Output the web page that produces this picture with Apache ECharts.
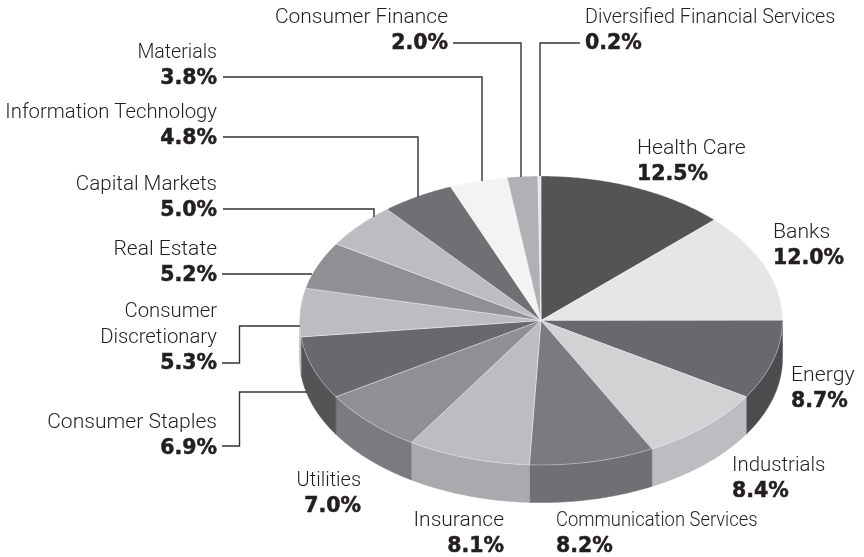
<!DOCTYPE html>
<html>
<head>
<meta charset="utf-8">
<style>
  html, body { margin: 0; padding: 0; background: #fff; }
  #chart { width: 864px; height: 557px; }
</style>
<script src="https://cdn.jsdelivr.net/npm/echarts@6/dist/echarts.min.js"></script>
</head>
<body>
<div id="chart"></div>
<script>
  // data, clockwise from 12 o'clock
  var categories = ['Health Care', 'Banks', 'Energy', 'Industrials', 'Communication Services', 'Insurance', 'Utilities',
    'Consumer Staples', 'Consumer\nDiscretionary', 'Real Estate', 'Capital Markets', 'Information Technology',
    'Materials', 'Consumer Finance', 'Diversified Financial Services']
  var values = [12.5, 12.0, 8.7, 8.4, 8.2, 8.1, 7.0, 6.9, 5.3, 5.2, 5.0, 4.8, 3.8, 2.0, 0.2]

  var topColors = ['#545456', '#e5e6e8', '#68696c', '#d1d2d4', '#7a7b7e', '#bcbdc0', '#8f9093', '#68696c',
    '#bcbdc0', '#8f9093', '#bcbdc0', '#6f7073', '#f3f3f4', '#b0b1b4', '#e5e6e8']
  var sideColors = ['#545456', '#e5e6e8', '#4b4c4e', '#bcbdc0', '#6f7073', '#a9aaad', '#7a7b7e', '#545456',
    '#bcbdc0', '#8f9093', '#bcbdc0', '#6f7073', '#f3f3f4', '#b0b1b4', '#e5e6e8']

  // [x, y of percent line, align]
  var labelPos = [
    [637, 175, 'left'], [773, 259, 'left'], [791, 402, 'left'], [732, 492, 'left'], [556, 547, 'left'],
    [504, 547, 'right'], [361, 507, 'right'], [217, 449, 'right'], [217, 364, 'right'], [217, 276, 'right'],
    [217, 211, 'right'], [217, 139, 'right'], [217, 79, 'right'], [448, 44, 'right'], [585, 44, 'left']
  ]
  // horizontal squeeze of the name text, the original type is set tighter on some labels
  var nameScale = [1.03, 1.03, 1.03, 0.99, 0.893, 1.02, 0.97, 1.024, 0.985, 1.02, 1.0, 0.986, 0.95, 1.018, 0.96]
  var leaders = [
    [[453, 43], [521, 43], [521, 177]],
    [[580, 43], [540, 43], [540, 176]],
    [[223, 77], [482, 77], [482, 181]],
    [[223, 137], [418, 137], [418, 197]],
    [[223, 209], [374, 209], [374, 217]],
    [[222, 274], [312, 274]],
    [[222, 363], [239.5, 363], [239.5, 326], [300, 326]],
    [[222, 446], [239.5, 446], [239.5, 392], [307, 392]]
  ]

  var depth = 0.26 // wall height in y axis units
  var total = values.reduce(function (a, b) { return a + b }, 0)

  // each slice as [start angle, end angle, index]
  var slices = []
  var run = 0
  values.forEach(function (v, i) {
    slices.push([run / total * 360, (run + v) / total * 360, i])
    run += v
  })

  function rimPoint(deg, dy) {
    var r = deg * Math.PI / 180
    return [Math.sin(r), Math.cos(r) - dy]
  }

  function renderTop(params, api) {
    var a0 = api.value(0)
    var a1 = api.value(1)
    var pts = [api.coord([0, 0])]
    for (var a = a0; a < a1; a += 0.5) pts.push(api.coord(rimPoint(a, 0)))
    pts.push(api.coord(rimPoint(a1, 0)))
    return {
      type: 'polygon',
      shape: { points: pts },
      style: { fill: topColors[api.value(2)], stroke: 'rgba(255,255,255,0.6)', lineWidth: 0.6 }
    }
  }

  function renderSide(params, api) {
    var a0 = Math.max(api.value(0), 90)
    var a1 = Math.min(api.value(1), 270)
    if (a1 <= a0) return null
    var pts = []
    var a
    for (a = a0; a < a1; a += 0.5) pts.push(api.coord(rimPoint(a, 0)))
    pts.push(api.coord(rimPoint(a1, 0)))
    pts.push(api.coord(rimPoint(a1, depth)))
    for (a = a1; a > a0; a -= 0.5) pts.push(api.coord(rimPoint(a, depth)))
    pts.push(api.coord(rimPoint(a0, depth)))
    var c = sideColors[api.value(2)]
    return {
      type: 'polygon',
      shape: { points: pts },
      style: { fill: c, stroke: c, lineWidth: 0.5 }
    }
  }

  var graphics = []
  categories.forEach(function (name, i) {
    var p = labelPos[i]
    graphics.push({
      type: 'text', x: p[0], y: p[1], z: 10,
      style: {
        text: values[i].toFixed(1) + '%', align: p[2], verticalAlign: 'middle', fill: '#231f20',
        stroke: '#231f20', lineWidth: 0.5,
        font: 'bold 20.5px "DejaVu Sans"'
      }
    })
    name.split('\n').reverse().forEach(function (line, k) {
      graphics.push({
        type: 'text', x: p[0], y: p[1] - 26 * (k + 1), scaleX: nameScale[i], z: 10,
        style: {
          text: line, align: p[2], verticalAlign: 'middle', fill: '#231f20',
          font: '300 20.6px Roboto'
        }
      })
    })
  })
  leaders.forEach(function (pts) {
    graphics.push({
      type: 'polyline', z: 5,
      shape: { points: pts },
      style: { stroke: '#333335', lineWidth: 1.4, fill: 'none' }
    })
  })

  var chart = echarts.init(document.getElementById('chart'), null, { renderer: 'canvas' })
  chart.setOption({
    animation: false,
    backgroundColor: '#fff',
    grid: { left: 299.5, top: 176, width: 483, height: 289 },
    xAxis: { type: 'value', min: -1, max: 1, show: false },
    yAxis: { type: 'value', min: -1, max: 1, show: false },
    graphic: graphics,
    series: [{
      type: 'custom',
      coordinateSystem: 'cartesian2d',
      clip: false,
      silent: true,
      z: 2,
      encode: { x: 0, y: 1 },
      renderItem: renderSide,
      data: slices
    }, {
      type: 'custom',
      coordinateSystem: 'cartesian2d',
      clip: false,
      silent: true,
      z: 3,
      encode: { x: 0, y: 1 },
      renderItem: renderTop,
      data: slices
    }]
  })
</script>
</body>
</html>
